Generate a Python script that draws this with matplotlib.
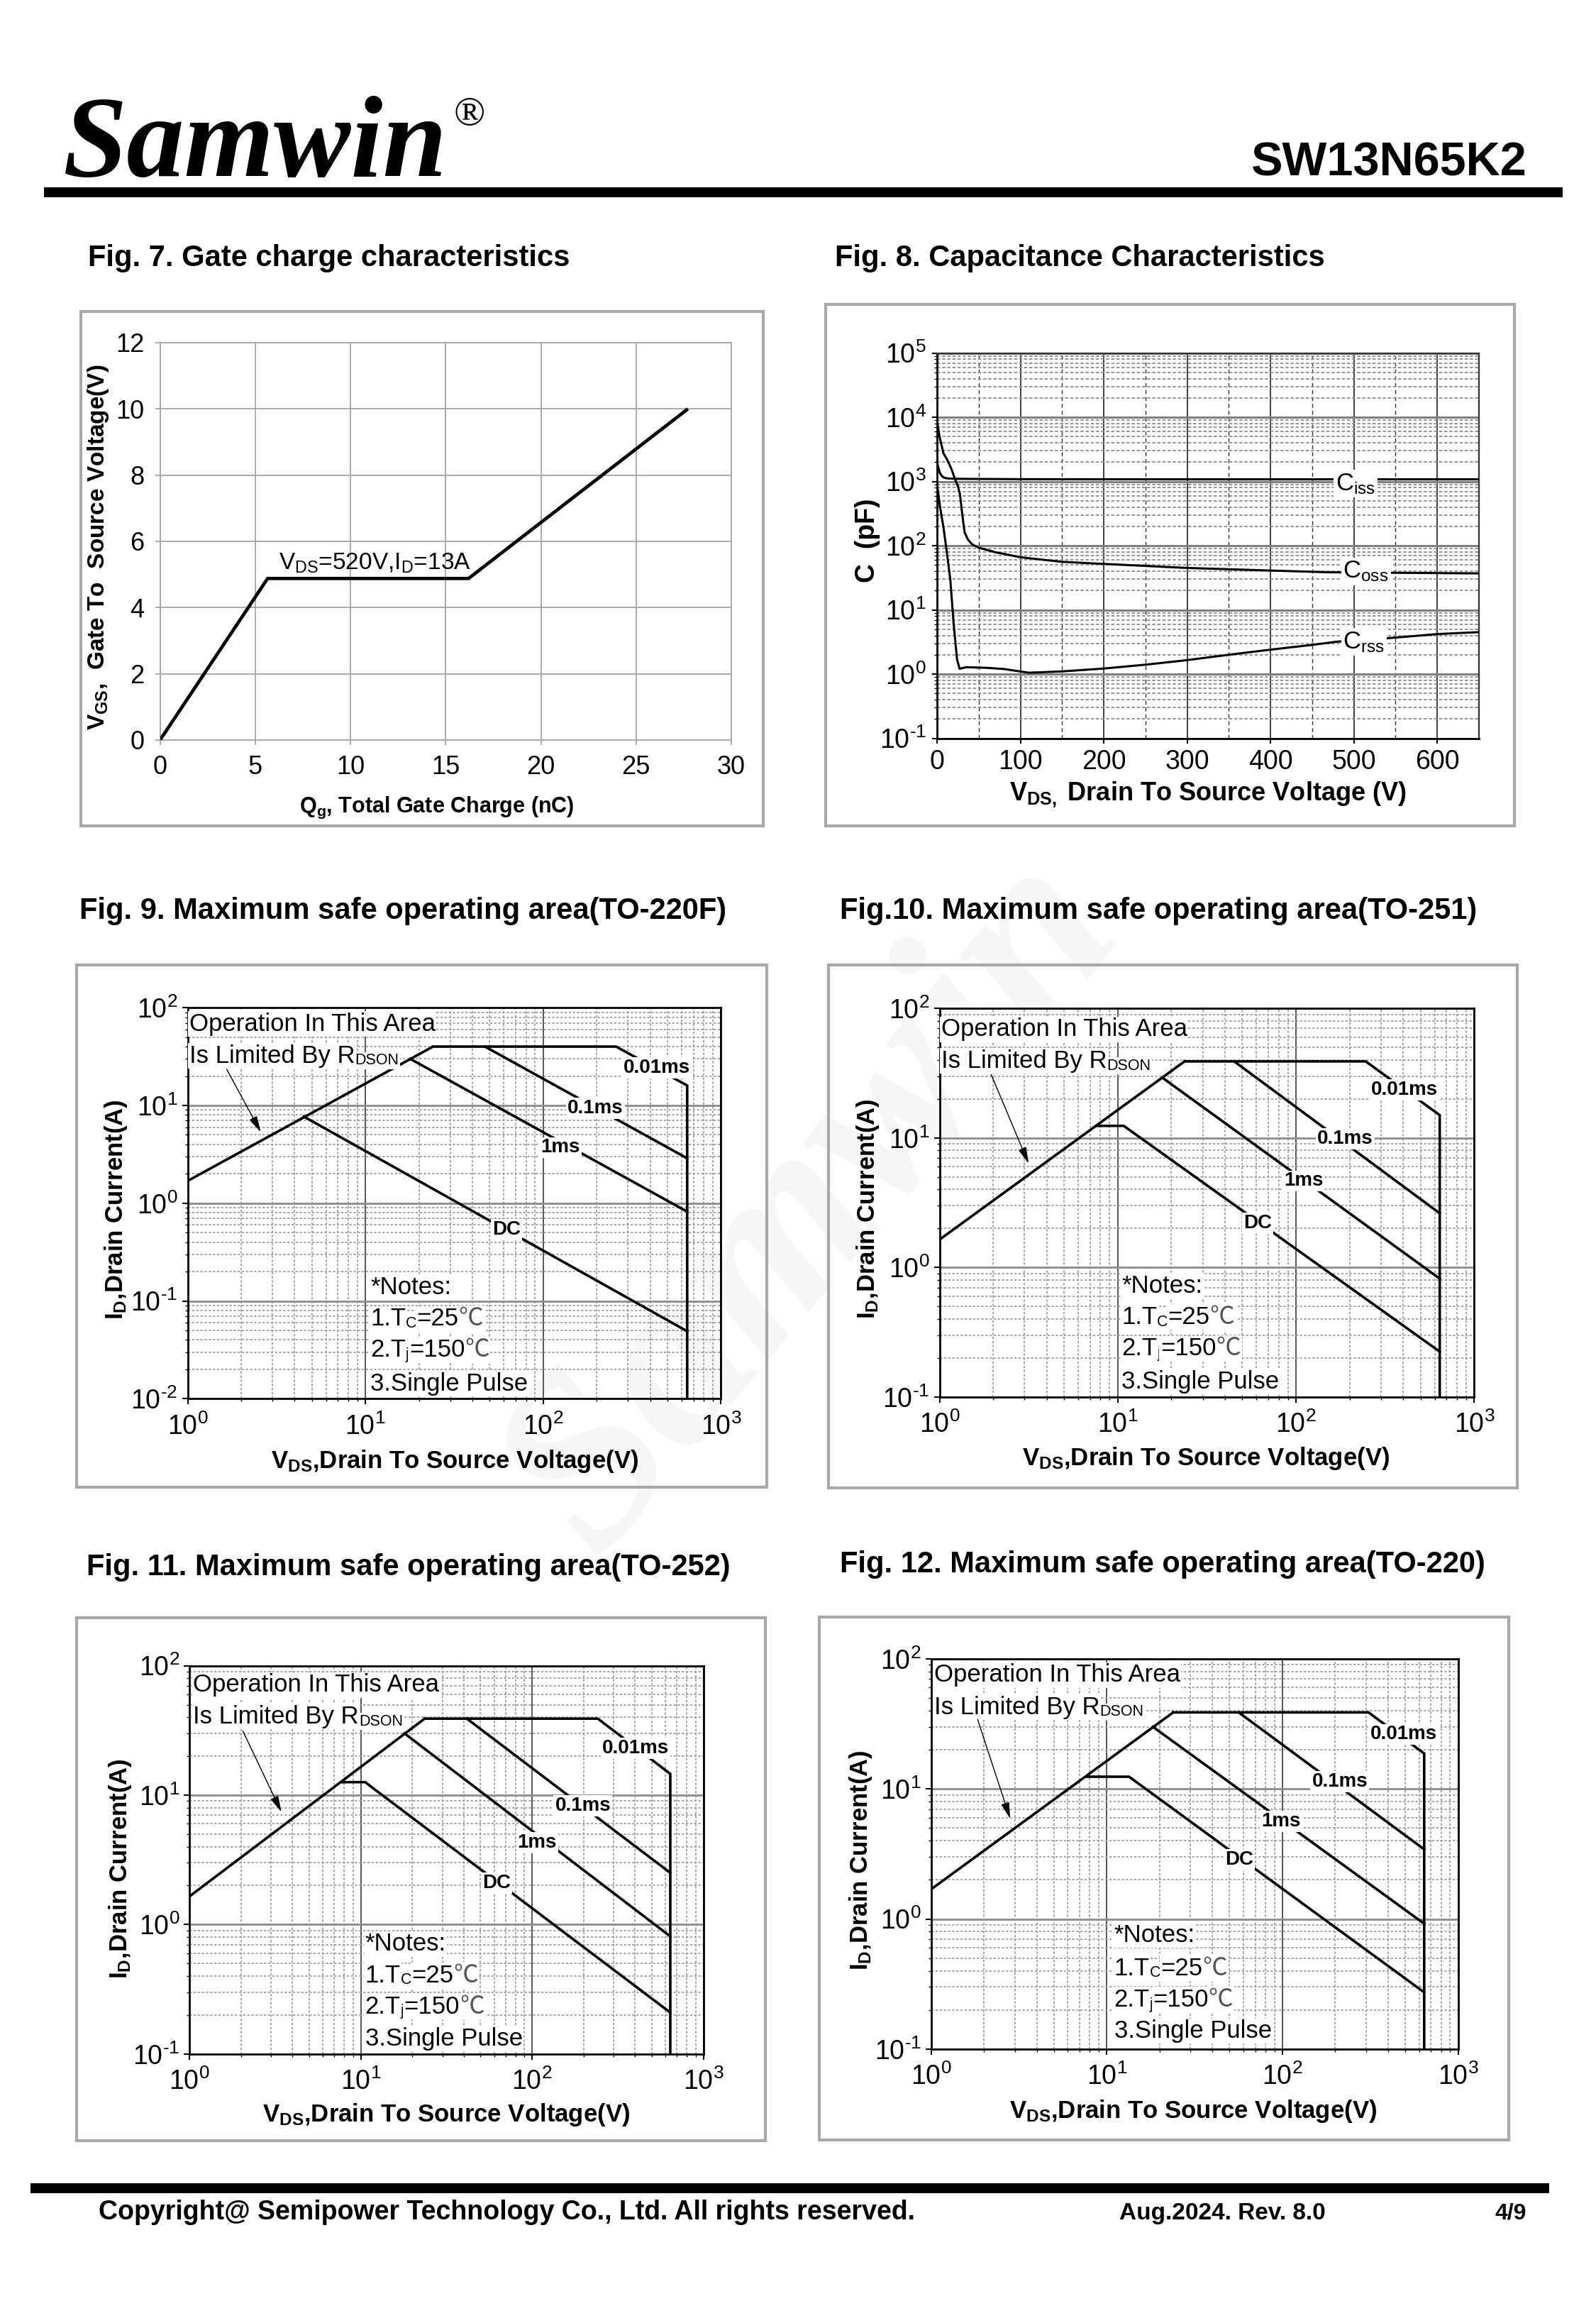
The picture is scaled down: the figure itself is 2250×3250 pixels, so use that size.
import numpy as np
import matplotlib
matplotlib.use('Agg')
import matplotlib.pyplot as plt
from matplotlib.patches import Rectangle
from matplotlib.ticker import LogLocator, MultipleLocator, NullFormatter, FuncFormatter

plt.rcParams['font.family'] = ['Liberation Sans', 'DejaVu Sans']
plt.rcParams['mathtext.fontset'] = 'custom'
plt.rcParams['mathtext.rm'] = 'Liberation Sans'
plt.rcParams['mathtext.it'] = 'Liberation Sans:italic'
plt.rcParams['mathtext.bf'] = 'Liberation Sans:bold'
plt.rcParams['mathtext.default'] = 'regular'

# Fig. 7 gate charge
qg = [0.0, 5.65, 16.2, 27.65]
vgs = [0.0, 4.88, 4.88, 9.97]

# Fig. 8 capacitance (V, pF)
ciss_v = [0, 1.5, 3.4, 5.5, 7.7, 10, 13.3, 20, 100, 300, 650]
ciss_c = [1990, 1650, 1357, 1230, 1160, 1130, 1115, 1100, 1085, 1080, 1080]
coss_v = [0, 3, 7.7, 12, 17, 22, 25, 27.5, 30, 33, 37, 42, 50, 70, 100, 150, 200, 300, 400, 470, 650]
coss_c = [8800, 5000, 2750, 2200, 1600, 1050, 850, 630, 330, 162, 125, 105, 93, 79, 66, 56, 52, 45, 41, 38.5, 37]
crss_v = [0, 3.4, 7.7, 11.9, 16, 20, 24, 27, 35, 60, 80, 110, 150, 200, 250, 300, 350, 400, 450, 480, 550, 600, 650]
crss_c = [900, 417, 194, 76, 29, 5.9, 1.7, 1.21, 1.28, 1.25, 1.2, 1.05, 1.1, 1.22, 1.4, 1.65, 2.0, 2.4, 2.85, 3.2, 3.7, 4.2, 4.5]

# SOA limit lines: RDSON, 0.01ms, 0.1ms, 1ms, DC  (VDS in V, ID in A)
f9_rdson = ([1.0, 24.0], [1.69, 40.0])
f9_10us = ([24.0, 257.0, 645.0, 645.0], [40.0, 40.0, 16.0, 0.01])
f9_100us = ([47.0, 645.0], [40.0, 2.88])
f9_1ms = ([17.9, 645.0], [29.9, 0.82])
f9_dc = ([4.5, 645.0], [7.7, 0.049])

f10_rdson = ([1.0, 23.7], [1.64, 39.0])
f10_10us = ([23.7, 246.0, 640.0, 640.0], [39.0, 39.0, 15.0, 0.1])
f10_100us = ([45.0, 640.0], [39.0, 2.62])
f10_1ms = ([17.9, 640.0], [29.0, 0.82])
f10_dc = ([7.7, 10.8, 640.0], [12.4, 12.4, 0.224])

f11_rdson = ([1.0, 23.6], [1.65, 39.0])
f11_10us = ([23.6, 242.0, 641.0, 641.0], [39.0, 39.0, 14.6, 0.1])
f11_100us = ([41.6, 641.0], [39.0, 2.51])
f11_1ms = ([18.0, 641.0], [30.0, 0.81])
f11_dc = ([7.7, 10.6, 641.0], [12.6, 12.6, 0.209])

f12_rdson = ([1.0, 23.9], [1.69, 38.7])
f12_10us = ([23.9, 309.0, 641.0, 641.0], [38.7, 38.7, 18.7, 0.1])
f12_100us = ([56.4, 641.0], [38.7, 3.43])
f12_1ms = ([18.3, 641.0], [30.0, 0.92])
f12_dc = ([7.65, 13.4, 641.0], [12.4, 12.4, 0.273])

tag_names = ['0.01ms', '0.1ms', '1ms', 'DC']

W, H = 2250, 3250
fig = plt.figure(figsize=(W / 100, H / 100), dpi=100)
rend = fig.canvas.get_renderer()


def fx(x):
    return x / W


def fy(y):
    return 1 - y / H


def add_ax(x0, y0, x1, y1):
    ax = fig.add_axes([fx(x0), fy(y1), (x1 - x0) / W, (y1 - y0) / H])
    ax.set_facecolor('none')
    return ax


def frame(x0, y0, x1, y1):
    fig.add_artist(Rectangle((fx(x0), fy(y1)), (x1 - x0) / W, (y1 - y0) / H,
                             transform=fig.transFigure, fill=False, ec='#a8a8a8', lw=3))


def bar(x0, y0, x1, y1):
    fig.add_artist(Rectangle((fx(x0), fy(y1)), (x1 - x0) / W, (y1 - y0) / H,
                             transform=fig.transFigure, fc='black', ec='none'))


def exp_fmt(v, p):
    e = int(round(np.log10(v)))
    return f'$10^{{{e}}}$' if e >= 0 else f'$10^{{\u2010{-e}}}$'


def chain(ax, x, y, parts, size):
    # text pieces laid side by side, y is the centre of the line
    em = size * 100 / 72
    dx = 0.0
    for s, kind in parts:
        fs = size * 0.62 if kind == 'sub' else size
        dy = -0.36 * em - (0.08 * em if kind == 'sub' else 0)
        fam = ['Noto Sans CJK SC'] if kind == 'deg' else ['Liberation Sans']
        col = '#555555' if kind == 'deg' else 'black'
        t = ax.annotate(s, (x, y), xytext=(dx, dy), textcoords='offset pixels',
                        size=fs, family=fam, color=col, ha='left', va='baseline',
                        bbox=dict(fc='white', ec='none', pad=1), zorder=5)
        dx += t.get_window_extent(rend).width


# faint watermark, behind everything
fig.text(fx(1150), fy(1700), 'Samwin', rotation=50, size=250, color='#f6f6f6',
         family='Liberation Serif', weight='bold', style='italic',
         ha='center', va='center', zorder=-10)

# header
fig.text(fx(88), fy(248), 'Samwin', family='Liberation Serif', weight='bold',
         style='italic', size=117, va='baseline')
fig.text(fx(640), fy(176), '\u00ae', family='Liberation Serif', size=42, va='baseline')
fig.text(fx(2152), fy(247), 'SW13N65K2', weight='bold', size=48, ha='right', va='baseline')
bar(62, 264, 2203, 278)

# footer
bar(43, 3077, 2184, 3091)
fig.text(fx(139), fy(3128), 'Copyright@ Semipower Technology Co., Ltd. All rights reserved.',
         weight='bold', size=27, va='baseline')
fig.text(fx(1578), fy(3128), 'Aug.2024. Rev. 8.0', weight='bold', size=24, va='baseline')
fig.text(fx(2152), fy(3128), '4/9', weight='bold', size=23, va='baseline', ha='right')

# titles
titles = [(124, 375, 'Fig. 7. Gate charge characteristics'),
          (1177, 375, 'Fig. 8. Capacitance Characteristics'),
          (112, 1295, 'Fig. 9. Maximum safe operating area(TO-220F)'),
          (1184, 1295, 'Fig.10. Maximum safe operating area(TO-251)'),
          (122, 2220, 'Fig. 11. Maximum safe operating area(TO-252)'),
          (1184, 2216, 'Fig. 12. Maximum safe operating area(TO-220)')]
for x, y, s in titles:
    fig.text(fx(x), fy(y), s, weight='bold', size=30, va='baseline')

# ---------------- Fig. 7 ----------------
frame(114, 439, 1076, 1164)
ax7 = add_ax(225.6, 483, 1031, 1043)
ax7.plot(qg, vgs, color='black', lw=3.4, solid_joinstyle='miter', zorder=3)
ax7.set_xlim(0, 30)
ax7.set_ylim(0, 12)
ax7.set_xticks(range(0, 31, 5))
ax7.set_yticks(range(0, 13, 2))
ax7.grid(color='#a6a6a6', lw=1.3)
for sp in ax7.spines.values():
    sp.set_color('#a6a6a6')
    sp.set_linewidth(1.3)
ax7.tick_params(axis='both', direction='out', length=5, width=1.3, color='#a6a6a6',
                labelsize=26)
ax7.tick_params(axis='y', pad=11)
ax7.tick_params(axis='x', pad=10)
ax7.text(6.25, 5.35, 'V$_{DS}$=520V,I$_{D}$=13A', size=24, va='center', ha='left')
fig.text(fx(138), fy(771), 'V$_{GS}$,  Gate To  Source Voltage(V)', rotation=90,
         ha='center', va='center', weight='bold', size=24)
fig.text(fx(616), fy(1145), 'Q$_{g}$, Total Gate Charge (nC)', ha='center', va='baseline',
         weight='bold', size=22)

# ---------------- Fig. 8 ----------------
frame(1164, 429, 2135, 1164)
ax8 = add_ax(1321, 497.6, 2085, 1040.5)
ax8.set_yscale('log')
ax8.set_xlim(0, 650)
ax8.set_ylim(0.1, 1e5)
ax8.xaxis.set_major_locator(MultipleLocator(100))
ax8.xaxis.set_minor_locator(MultipleLocator(50))
ax8.yaxis.set_major_locator(LogLocator(base=10, numticks=12))
ax8.yaxis.set_minor_locator(LogLocator(base=10, subs=np.arange(2, 10), numticks=12))
ax8.yaxis.set_minor_formatter(NullFormatter())
ax8.yaxis.set_major_formatter(FuncFormatter(exp_fmt))
ax8.yaxis.grid(True, which='major', color='#7f7f7f', lw=2.2)
ax8.yaxis.grid(True, which='minor', color='#8c8c8c', lw=1.3, ls=(0, (2.5, 1.5)))
ax8.xaxis.grid(True, which='major', color='#202020', lw=1.2)
ax8.xaxis.grid(True, which='minor', color='#303030', lw=1.0, ls=(0, (4, 3)))
for sp in ax8.spines.values():
    sp.set_color('#333333')
    sp.set_linewidth(1.6)
ax8.spines['left'].set_color('black')
ax8.spines['left'].set_linewidth(2)
ax8.spines['bottom'].set_color('black')
ax8.spines['bottom'].set_linewidth(2)
ax8.tick_params(axis='both', which='major', direction='out', length=5, width=1.5,
                labelsize=27, pad=6)
ax8.tick_params(axis='y', which='minor', direction='out', length=3, width=1)
ax8.tick_params(axis='x', which='minor', length=0)
ax8.plot(ciss_v, ciss_c, color='black', lw=2.2, zorder=3)
ax8.plot(coss_v, coss_c, color='black', lw=2.2, zorder=3)
ax8.plot(crss_v, crss_c, color='black', lw=2.2, zorder=3)
for v, c, s in [(478, 920, 'C$_{iss}$'), (487, 39.5, 'C$_{oss}$'), (487, 3.16, 'C$_{rss}$')]:
    ax8.text(v, c, s, size=25, ha='left', va='center', zorder=4,
             bbox=dict(fc='white', ec='none', pad=2))
fig.text(fx(1223), fy(762), 'C  (pF)', rotation=90, ha='center', va='center',
         weight='bold', size=27)
fig.text(fx(1703), fy(1128), 'V$_{DS,}$ Drain To Source Voltage (V)', ha='center',
         va='baseline', weight='bold', size=26)


# ---------------- SOA charts ----------------
def soa(box, ymin, curves, tag_pos, oper, arrow, notes, ylab_xy, xlab_xy):
    ax = add_ax(*box)
    ax.set_xscale('log')
    ax.set_yscale('log')
    ax.set_xlim(1, 1000)
    ax.set_ylim(ymin, 100)
    for axis in (ax.xaxis, ax.yaxis):
        axis.set_major_locator(LogLocator(base=10, numticks=12))
        axis.set_minor_locator(LogLocator(base=10, subs=np.arange(2, 10), numticks=12))
        axis.set_minor_formatter(NullFormatter())
        axis.set_major_formatter(FuncFormatter(exp_fmt))
    ax.xaxis.grid(True, which='major', color='#3a3a3a', lw=1.2)
    ax.yaxis.grid(True, which='major', color='#8c8c8c', lw=2.0)
    ax.grid(True, which='minor', color='#9a9a9a', lw=1.2, ls=(0, (2, 1.5)))
    for sp in ax.spines.values():
        sp.set_color('black')
        sp.set_linewidth(2)
    ax.tick_params(which='major', direction='out', length=6, width=1.5, labelsize=27)
    ax.tick_params(which='minor', direction='out', length=3, width=1)
    ax.tick_params(axis='x', which='major', pad=9)
    ax.tick_params(axis='y', which='major', pad=4)

    for v, i in curves:
        ax.plot(v, i, color='black', lw=2.6, solid_joinstyle='miter', zorder=3)
    for name, (v, i) in zip(tag_names, tag_pos):
        ax.text(v, i, name, weight='bold', size=20, ha='center', va='center', zorder=4,
                bbox=dict(fc='white', ec='none', pad=1.5))

    ox, oy1, oy2 = oper
    ax.text(ox, oy1, 'Operation In This Area', size=25, ha='left', va='center', zorder=5,
            bbox=dict(fc='white', ec='none', pad=1))
    chain(ax, ox, oy2, [('Is Limited By R', ''), ('DSON', 'sub')], 25)
    ax.annotate('', xy=arrow[1], xytext=arrow[0], zorder=5,
                arrowprops=dict(arrowstyle='-|>,head_length=0.7,head_width=0.18',
                                color='black', lw=1.0, mutation_scale=20, shrinkA=0, shrinkB=0))

    nx, ny = notes
    chain(ax, nx, ny[0], [('*Notes:', '')], 25)
    chain(ax, nx, ny[1], [('1.T', ''), ('C', 'sub'), ('=25', ''), ('\u2103', 'deg')], 25)
    chain(ax, nx, ny[2], [('2.T', ''), ('j', 'sub'), ('=150', ''), ('\u2103', 'deg')], 25)
    chain(ax, nx, ny[3], [('3.Single Pulse', '')], 25)

    fig.text(fx(ylab_xy[0]), fy(ylab_xy[1]), 'I$_{D}$,Drain Current(A)', rotation=90,
             ha='center', va='center', weight='bold', size=25)
    fig.text(fx(xlab_xy[0]), fy(xlab_xy[1]), 'V$_{DS}$,Drain To Source Voltage(V)',
             ha='center', va='baseline', weight='bold', size=25)
    return ax


frame(108, 1360, 1081, 2096)
soa((264.5, 1420.2, 1016.5, 1971.3), 0.01,
    [f9_rdson, f9_10us, f9_100us, f9_1ms, f9_dc],
    [(435, 24.4), (197, 9.3), (125, 3.7), (62, 0.536)],
    (1.02, 68, 33.8), ((1.66, 23.4), (2.58, 5.33)),
    (10.65, [0.144, 0.069, 0.033, 0.015]), (164, 1705), (641, 2069))

frame(1168, 1360, 2139, 2097)
soa((1324.5, 1421.2, 2078.4, 1968.9), 0.1,
    [f10_rdson, f10_10us, f10_100us, f10_1ms, f10_dc],
    [(404, 23.4), (189, 9.8), (110, 4.65), (61, 2.2)],
    (1.02, 69, 40.8), ((1.95, 30.8), (3.16, 6.35)),
    (10.5, [0.75, 0.43, 0.246, 0.136]), (1224, 1704), (1700, 2065))

frame(108, 2280, 1079, 3017)
soa((267.1, 2347.6, 991.6, 2894.8), 0.1,
    [f11_rdson, f11_10us, f11_100us, f11_1ms, f11_dc],
    [(402, 23.0), (198, 8.3), (107, 4.3), (62, 2.1)],
    (1.05, 71, 42), ((2.05, 31.3), (3.44, 7.4)),
    (10.6, [0.736, 0.42, 0.241, 0.136]), (170, 2634), (629, 2990))

frame(1155, 2279, 2127, 3016)
soa((1312.6, 2337.8, 2055.6, 2887.9), 0.1,
    [f12_rdson, f12_10us, f12_100us, f12_1ms, f12_dc],
    [(491, 26.2), (212, 11.3), (98, 5.6), (57, 2.85)],
    (1.04, 74.8, 44), ((1.84, 34.2), (2.82, 5.9)),
    (11.0, [0.78, 0.434, 0.249, 0.143]), (1214, 2622), (1682, 2985))

fig.savefig('out.png', dpi=100, facecolor='white')
